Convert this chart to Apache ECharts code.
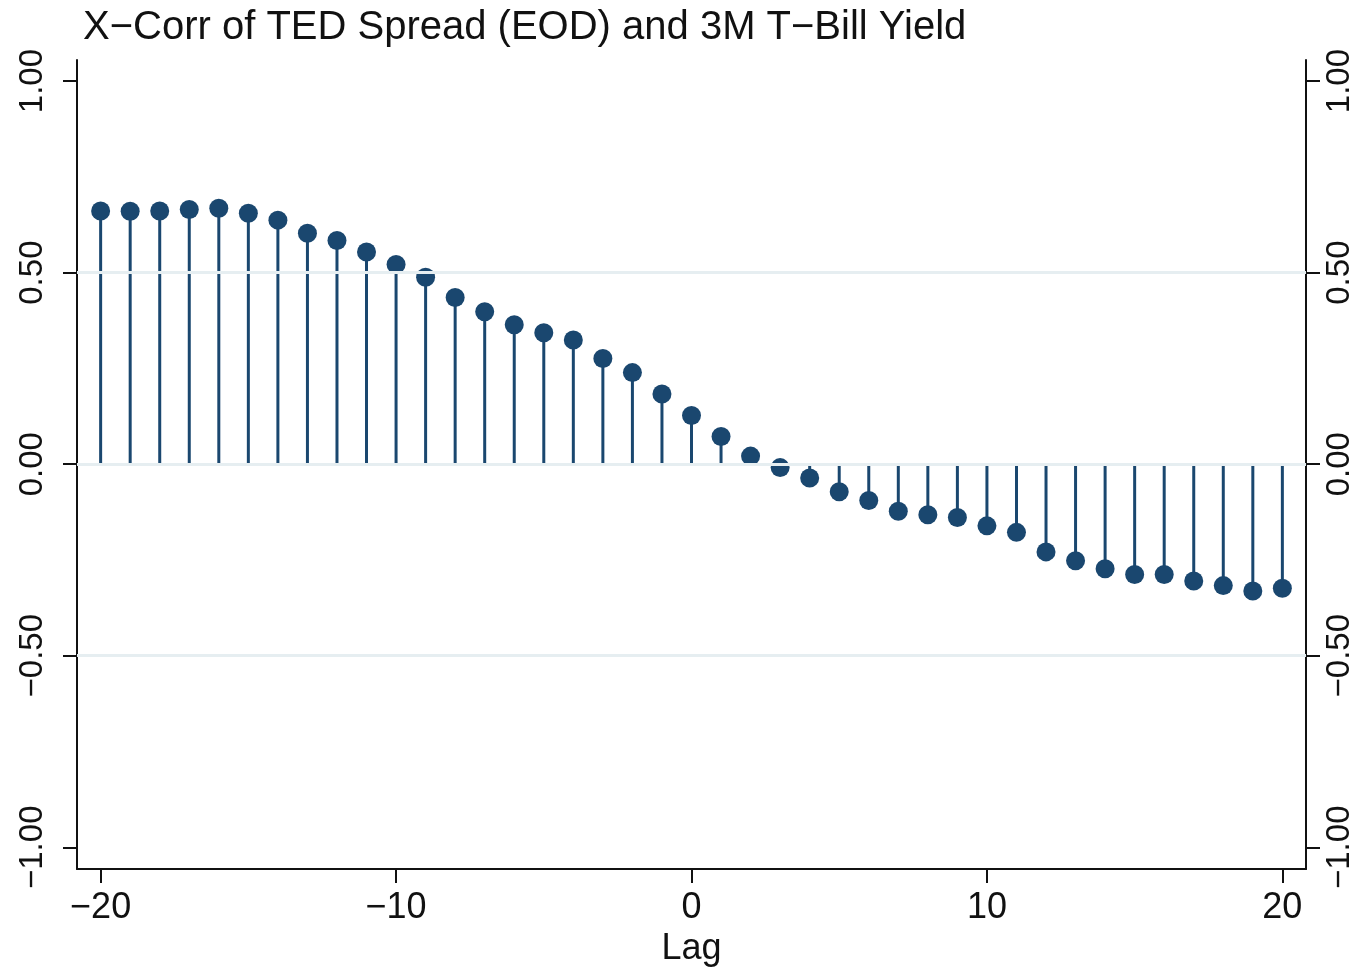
<!DOCTYPE html>
<html>
<head>
<meta charset="utf-8">
<script src="https://cdn.jsdelivr.net/npm/echarts@6/dist/echarts.min.js"></script>
<style>
  html, body { margin: 0; padding: 0; background: #fff; }
  #chart { width: 1364px; height: 972px; }
</style>
</head>
<body>
<div id="chart"></div>
<script>
// Cross-correlation of the TED spread (EOD) with the 3-month T-bill yield
const lags = [-20, -19, -18, -17, -16, -15, -14, -13, -12, -11, -10, -9, -8, -7, -6, -5, -4, -3, -2, -1,
              0, 1, 2, 3, 4, 5, 6, 7, 8, 9, 10, 11, 12, 13, 14, 15, 16, 17, 18, 19, 20];
const xcorr = [0.661, 0.660, 0.661, 0.665, 0.668, 0.655, 0.637, 0.603, 0.584, 0.554,
               0.521, 0.488, 0.435, 0.398, 0.364, 0.343, 0.324, 0.276, 0.239, 0.183,
               0.127, 0.072, 0.021, -0.009, -0.036, -0.072, -0.095, -0.123, -0.132, -0.139,
               -0.161, -0.178, -0.229, -0.252, -0.273, -0.288, -0.288, -0.305, -0.317, -0.331,
               -0.324];
const yTicks = [-1, -0.5, 0, 0.5, 1];
const xTicks = [-20, -10, 0, 10, 20];
const gridLevels = [-0.5, 0, 0.5];

const NAVY = '#1a476f';
const INK = '#111111';
const FONT = 'Liberation Sans, Arial, Helvetica, sans-serif';
const minus = s => s.replace('-', '\u2212');

const points = lags.map((l, i) => [l, xcorr[i]]);

const yAxisBase = {
  type: 'value',
  min: -1.057,
  max: 1.055,
  axisLine: { show: true, onZero: false, lineStyle: { color: INK, width: 2 } },
  axisTick: { show: true, length: 14, customValues: yTicks, lineStyle: { color: INK, width: 2 } },
  splitLine: { show: false },
  axisLabel: {
    customValues: yTicks,
    rotate: 90,
    fontSize: 33,
    fontFamily: FONT,
    color: INK,
    formatter: v => minus(Number(v).toFixed(2))
  }
};

const chart = echarts.init(document.getElementById('chart'), null, { renderer: 'canvas' });
chart.setOption({
  animation: false,
  backgroundColor: '#ffffff',
  title: {
    text: 'X\u2212Corr of TED Spread (EOD) and 3M T\u2212Bill Yield',
    left: 78,
    top: 3,
    textStyle: { fontSize: 40, fontWeight: 'normal', fontFamily: FONT, color: INK }
  },
  grid: { left: 77, right: 58, top: 60, bottom: 98, containLabel: false },
  xAxis: {
    type: 'value',
    min: -20.8,
    max: 20.8,
    name: 'Lag',
    nameLocation: 'middle',
    nameGap: 61,
    nameTextStyle: { fontSize: 36, fontFamily: FONT, color: INK },
    axisLine: { show: true, onZero: false, lineStyle: { color: INK, width: 2 } },
    axisTick: { show: true, length: 14, customValues: xTicks, lineStyle: { color: INK, width: 2 } },
    splitLine: { show: false },
    axisLabel: {
      customValues: xTicks,
      margin: 21,
      fontSize: 36,
      fontFamily: FONT,
      color: INK,
      formatter: v => minus(String(v))
    }
  },
  yAxis: [
    Object.assign({}, yAxisBase, { position: 'left', axisLabel: Object.assign({}, yAxisBase.axisLabel, { margin: 28 }) }),
    Object.assign({}, yAxisBase, { position: 'right', axisLabel: Object.assign({}, yAxisBase.axisLabel, { margin: 17 }) })
  ],
  series: [
    {
      // horizontal reference lines
      type: 'line',
      data: [],
      z: 1,
      silent: true,
      markLine: {
        silent: true,
        symbol: ['none', 'none'],
        label: { show: false },
        lineStyle: { color: '#e6eef1', width: 3, type: 'solid' },
        data: gridLevels.map(v => ({ yAxis: v }))
      }
    },
    {
      // stems from zero to each correlation
      type: 'custom',
      z: 2,
      data: points,
      renderItem: (params, api) => {
        const x = api.value(0);
        const y = api.value(1);
        const p0 = api.coord([x, 0]);
        const p1 = api.coord([x, y]);
        return {
          type: 'line',
          shape: { x1: p0[0], y1: p0[1], x2: p1[0], y2: p1[1] },
          style: { stroke: NAVY, lineWidth: 3 }
        };
      }
    },
    {
      type: 'scatter',
      z: 3,
      data: points,
      symbol: 'circle',
      symbolSize: 19,
      itemStyle: { color: NAVY, opacity: 1 }
    }
  ]
});
</script>
</body>
</html>
